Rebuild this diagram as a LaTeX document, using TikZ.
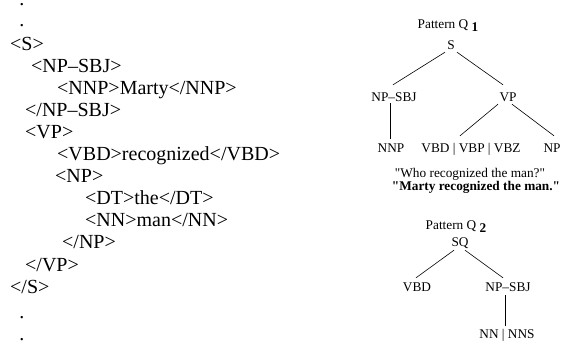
\documentclass[tikz,border=0pt]{standalone}
\usepackage{fontspec}
\setmainfont{Liberation Serif}
\begin{document}
\begin{tikzpicture}[x=1pt,y=-1pt,
  xml/.style={anchor=base west,inner sep=0pt,font=\fontsize{20}{22}\selectfont},
  vdot/.style={anchor=base,inner sep=0pt,font=\fontsize{20}{22}\selectfont},
  tn/.style={anchor=base,inner sep=0pt,text height=9pt,text depth=0pt,font=\fontsize{13.3}{15}\selectfont},
  edge/.style={line width=0.6pt}]
\useasboundingbox (0,0) rectangle (561,345);
% left XML listing
\node[vdot] (d1) at (22,6) {.};
\node[vdot] (d2) at (22,27) {.};
\node[xml] (l1) at (10,50) {<S>};
\node[xml] (l2) at (31,72.1) {<NP–SBJ>};
\node[xml] (l3) at (57,94.2) {<NNP>Marty</NNP>};
\node[xml] (l4) at (25,116.3) {</NP–SBJ>};
\node[xml] (l5) at (25,138.4) {<VP>};
\node[xml] (l6) at (57,160.5) {<VBD>recognized</VBD>};
\node[xml] (l7) at (55,182.6) {<NP>};
\node[xml] (l8) at (85,204.7) {<DT>the</DT>};
\node[xml] (l9) at (85,226.8) {<NN>man</NN>};
\node[xml] (l10) at (62,248.9) {</NP>};
\node[xml] (l11) at (25,271) {</VP>};
\node[xml] (l12) at (10,293.1) {</S>};
\node[vdot] (d3) at (22,318) {.};
\node[vdot] (d4) at (22,340) {.};
% pattern Q1
\node[tn,text height=] (p1) at (448,28.5) {Pattern Q \raisebox{-3pt}{\textbf{1}}};
\node[tn] (S) at (451,49.5) {S};
\node[tn] (npsbja) at (394,101.5) {NP–SBJ};
\node[tn] (vp) at (508,101.5) {VP};
\node[tn] (nnp) at (391,152.5) {NNP};
\node[tn] (vbds) at (471,152.5) {VBD | VBP | VBZ};
\node[tn] (np) at (552,152.5) {NP};
\draw[edge] ([xshift=-6pt,yshift=-2.5pt]S.south) -- ([xshift=-1pt,yshift=7.5pt]npsbja.north);
\draw[edge] ([xshift=6pt,yshift=-2.5pt]S.south) -- ([xshift=-5pt,yshift=7.5pt]vp.north);
\draw[edge] ([xshift=-4pt,yshift=-1.5pt]npsbja.south) -- ([xshift=-1pt,yshift=4.5pt]nnp.north);
\draw[edge] ([xshift=-10pt,yshift=-2.5pt]vp.south) -- ([xshift=-11pt,yshift=7.5pt]vbds.north);
\draw[edge] ([xshift=4pt,yshift=-2.5pt]vp.south) -- ([xshift=2pt,yshift=7.5pt]np.north);
\node[tn] (who) at (470,177.5) {\textquotedbl Who recognized the man?\textquotedbl};
\node[tn] (ans) at (476,190.5) {\textbf{\textquotedbl Marty recognized the man.\textquotedbl}};
% pattern Q2
\node[tn,text height=] (p2) at (456,229.5) {Pattern Q \raisebox{-3pt}{\textbf{2}}};
\node[tn] (sq) at (460,246.5) {SQ};
\node[tn] (vbd) at (417,291.5) {VBD};
\node[tn] (npsbjb) at (508,291.5) {NP–SBJ};
\node[tn] (nn) at (507,338.5) {NN | NNS};
\draw[edge] ([xshift=-6pt,yshift=-3.5pt]sq.south) -- ([xshift=-1pt,yshift=4.5pt]vbd.north);
\draw[edge] ([xshift=5pt,yshift=-3.5pt]sq.south) -- ([xshift=-5pt,yshift=4.5pt]npsbjb.north);
\draw[edge] ([xshift=-3pt,yshift=-3.5pt]npsbjb.south) -- ([xshift=-2pt,yshift=3.5pt]nn.north);
\end{tikzpicture}
\end{document}
